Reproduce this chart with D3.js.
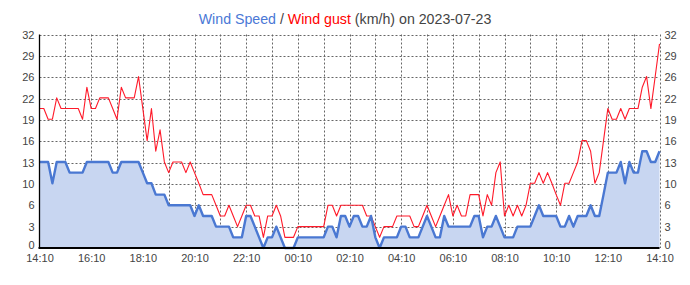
<!DOCTYPE html>
<html>
<head>
<meta charset="utf-8">
<script src="https://cdn.jsdelivr.net/npm/d3@7"></script>
<style>
  html, body { margin: 0; padding: 0; background: #fff; }
  svg { display: block; font-family: "Liberation Sans", Arial, sans-serif; }
</style>
</head>
<body>
<svg id="chart" width="690" height="285"></svg>
<script>
// ---- data (10-minute samples, 2023-07-22 14:10 → 2023-07-23 14:10) ----
const windSpeed = [
  12.9,12.9,12.9,9.7,12.9,12.9,12.9,11.3,11.3,11.3,11.3,12.9,
  12.9,12.9,12.9,12.9,12.9,11.3,11.3,12.9,12.9,12.9,12.9,12.9,
  11.3,9.7,9.7,8.0,8.0,8.0,6.4,6.4,6.4,6.4,6.4,6.4,
  4.8,6.4,4.8,4.8,4.8,3.2,3.2,3.2,3.2,1.6,1.6,1.6,
  4.8,4.8,3.2,1.6,0,1.6,1.6,3.2,1.6,0,0,0,
  1.6,1.6,1.6,1.6,1.6,1.6,1.6,3.2,3.2,1.6,4.8,4.8,
  3.2,4.8,4.8,3.2,3.2,4.8,1.6,0,1.6,1.6,1.6,1.6,
  3.2,3.2,1.6,1.6,1.6,3.2,4.8,3.2,1.6,1.6,4.8,3.2,
  3.2,3.2,3.2,3.2,3.2,4.8,4.8,1.6,3.2,3.2,4.8,3.2,
  1.6,1.6,1.6,3.2,3.2,3.2,3.2,4.8,6.4,4.8,4.8,4.8,
  4.8,3.2,3.2,4.8,3.2,4.8,4.8,4.8,6.4,4.8,4.8,8.0,
  11.3,11.3,11.3,12.9,9.7,12.9,11.3,11.3,14.5,14.5,12.9,12.9,
  14.5
];
const windGust = [
  20.9,20.9,19.3,19.3,22.5,20.9,20.9,20.9,20.9,20.9,19.3,24.1,
  20.9,20.9,22.5,22.5,22.5,20.9,19.3,24.1,22.5,22.5,22.5,25.7,
  20.9,16.1,20.9,14.5,17.7,12.9,11.3,12.9,12.9,12.9,11.3,12.9,
  11.3,9.7,8.0,8.0,8.0,6.4,4.8,4.8,6.4,4.8,3.2,4.8,
  6.4,6.4,4.8,4.8,1.6,4.8,4.8,6.4,4.8,1.6,1.6,1.6,
  3.2,3.2,3.2,3.2,3.2,3.2,3.2,6.4,6.4,4.8,6.4,6.4,
  6.4,6.4,6.4,6.4,4.8,4.8,3.2,1.6,3.2,3.2,3.2,4.8,
  4.8,4.8,4.8,3.2,3.2,4.8,6.4,4.8,3.2,4.8,6.4,8.0,
  4.8,6.4,4.8,4.8,8.0,8.0,8.0,4.8,8.0,6.4,11.3,12.9,
  4.8,6.4,4.8,6.4,4.8,6.4,9.7,9.7,11.3,9.7,11.3,9.7,
  8.0,6.4,9.7,9.7,11.3,12.9,16.1,16.1,14.5,9.7,11.3,16.1,
  20.9,19.3,19.3,20.9,19.3,20.9,20.9,20.9,24.1,25.7,20.9,25.7,
  30.6
];
const xTickLabels = ["14:10","16:10","18:10","20:10","22:10","00:10","02:10",
                     "04:10","06:10","08:10","10:10","12:10","14:10"];
const yTickValues = [0,3.2,6.4,9.6,12.8,16,19.2,22.4,25.6,28.8,32];
const yTickLabels = ["0","3","6","10","13","16","19","22","26","29","32"];
const sampleMinutes = 10;
const spanMinutes = 24 * 60;

// ---- layout ----
const L = 39.5, R = 659.5, T = 34.5, B = 248;
const svg = d3.select("#chart");

const x = d3.scaleLinear().domain([0, spanMinutes]).range([L, R]);
const y = d3.scaleLinear().domain([0, 32]).range([B, T]);

const textColor = "#444";
const gridColor = "#666";

// grid
const g = svg.append("g");
const hourTicks = d3.range(0, spanMinutes + 1, 60);
g.selectAll("line.vg").data(hourTicks.slice(1)).join("line")
  .attr("x1", d => Math.round(x(d)) + 0.5).attr("x2", d => Math.round(x(d)) + 0.5)
  .attr("y1", T).attr("y2", B)
  .attr("stroke", gridColor).attr("stroke-width", 1).attr("stroke-dasharray", "2,2");
g.selectAll("line.hg").data(yTickValues.slice(1)).join("line")
  .attr("x1", L).attr("x2", R)
  .attr("y1", d => Math.round(y(d)) + 0.5).attr("y2", d => Math.round(y(d)) + 0.5)
  .attr("stroke", gridColor).attr("stroke-width", 1).attr("stroke-dasharray", "2,2");

// area + lines
const idxX = (d, i) => x(i * sampleMinutes);
const area = d3.area().x(idxX).y0(B).y1(d => y(d));
const line = d3.line().x(idxX).y(d => y(d));

svg.append("path").datum(windSpeed).attr("d", area)
  .attr("fill", "#c8d6f1").attr("stroke", "none");
svg.append("path").datum(windGust).attr("d", line)
  .attr("fill", "none").attr("stroke", "#ff1a2a").attr("stroke-width", 1.1)
  .attr("stroke-linejoin", "round");
svg.append("path").datum(windSpeed).attr("d", line)
  .attr("fill", "none").attr("stroke", "#4a78d2").attr("stroke-width", 2.4)
  .attr("stroke-linejoin", "round");

// axes lines
svg.append("line").attr("x1", L).attr("x2", L).attr("y1", T).attr("y2", B)
  .attr("stroke", "#000").attr("stroke-width", 1.3);
svg.append("line").attr("x1", L - 1).attr("x2", R).attr("y1", B).attr("y2", B)
  .attr("stroke", "#000").attr("stroke-width", 2);

// y axis labels (left and right)
const yAxisL = d3.axisLeft(y).tickValues(yTickValues)
  .tickFormat((d, i) => yTickLabels[i]).tickSize(0).tickPadding(5);
const gl = svg.append("g").attr("transform", `translate(${L},0)`).call(yAxisL);
const yAxisR = d3.axisRight(y).tickValues(yTickValues)
  .tickFormat((d, i) => yTickLabels[i]).tickSize(0).tickPadding(5);
const gr = svg.append("g").attr("transform", `translate(${R},0)`).call(yAxisR);

// x axis labels
const xTickValues = d3.range(0, spanMinutes + 1, 120);
const xAxis = d3.axisBottom(x).tickValues(xTickValues)
  .tickFormat((d, i) => xTickLabels[i]).tickSize(0).tickPadding(6);
const gb = svg.append("g").attr("transform", `translate(0,${B})`).call(xAxis);

[gl, gr, gb].forEach(a => {
  a.select(".domain").remove();
  a.selectAll("text").attr("fill", textColor)
    .style("font-family", '"Liberation Sans", Arial, sans-serif')
    .style("font-size", "11px");
});
// lift the two "0" labels a little so they do not collide with the time labels
[gl, gr].forEach(a => {
  a.selectAll(".tick").filter(d => d === 0).select("text").attr("dy", "0.05em");
});

// title
const title = svg.append("text").attr("x", 345).attr("y", 24)
  .attr("text-anchor", "middle").style("font-size", "14.2px");
title.append("tspan").attr("fill", "#4a78d6").text("Wind Speed");
title.append("tspan").attr("fill", textColor).text(" / ");
title.append("tspan").attr("fill", "#ff0000").text("Wind gust");
title.append("tspan").attr("fill", textColor).text(" (km/h) on 2023-07-23");
</script>
</body>
</html>
